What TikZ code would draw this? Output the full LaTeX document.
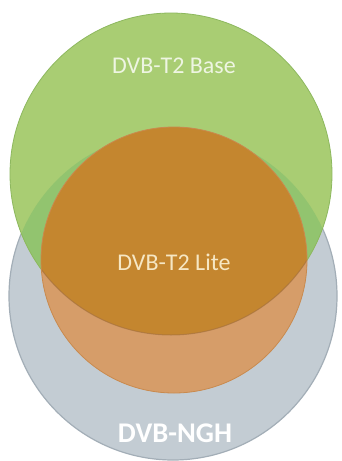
\documentclass[tikz,border=0pt]{standalone}
\usepackage{fontspec}
\setmainfont{Carlito}
\definecolor{nghgrey}{HTML}{C3CCD3}
\definecolor{nghedge}{HTML}{A3AEB7}
\definecolor{basegreen}{HTML}{A9CD73}
\definecolor{basedeep}{HTML}{92C46F}
\definecolor{baseedge}{HTML}{8DB85E}
\definecolor{liteover}{HTML}{C4862F}
\definecolor{litelow}{HTML}{D69D69}
\definecolor{liteedge}{HTML}{C98A4E}
\definecolor{basetext}{HTML}{EEF5E2}
\definecolor{litetext}{HTML}{F6E7C4}
\tikzset{
  label/.style={font=\fontsize{24}{28}\selectfont, inner sep=0pt, anchor=center},
}
\begin{document}
\begin{tikzpicture}[x=1pt,y=-1pt]
\useasboundingbox[fill=white] (0,0) rectangle (342,461);
% circle centres
\coordinate (cNGH)  at (173,296);
\coordinate (cBase) at (171,174);
\coordinate (cLite) at (174,260);
% DVB-NGH disc
\fill[nghgrey] (cNGH) circle (164);
\draw[nghedge, line width=1.2pt] (cNGH) circle (164);
% DVB-T2 Base disc, deeper where it lies over DVB-NGH
\fill[basegreen] (cBase) circle (161);
\begin{scope}
  \clip (cNGH) circle (164);
  \fill[basedeep] (cBase) circle (161);
\end{scope}
\draw[baseedge, line width=0.8pt] (cBase) circle (161);
% DVB-T2 Lite disc, darker inside DVB-T2 Base
\fill[litelow] (cLite) circle (133);
\begin{scope}
  \clip (cBase) circle (161);
  \fill[liteover] (cLite) circle (133);
\end{scope}
\begin{scope}
  \clip (cLite) circle (133);
  \draw[liteedge!80!black, line width=1pt, opacity=0.6] (cBase) circle (161);
\end{scope}
\draw[liteedge, line width=0.8pt] (cLite) circle (133);
% labels
\node[label, text=basetext] (tBase) at (174,66) {DVB-T2 Base};
\node[label, text=litetext] (tLite) at (174,262) {DVB-T2 Lite};
\node[label, font=\fontsize{28.5}{32}\selectfont\bfseries, text=white] (tNGH) at (175,433) {DVB-NGH};
\end{tikzpicture}
\end{document}
